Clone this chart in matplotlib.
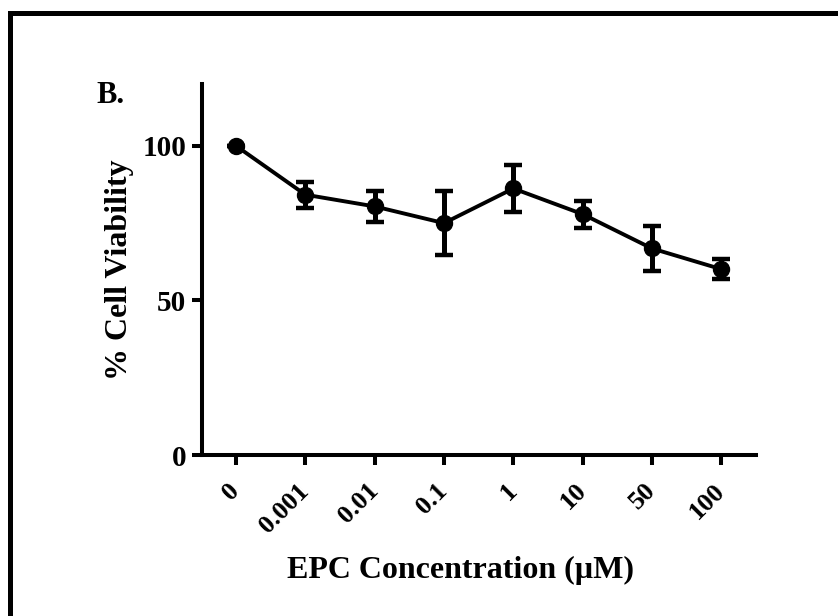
import matplotlib
matplotlib.use("Agg")
import matplotlib.pyplot as plt
from matplotlib.lines import Line2D

# Values (mean +/- error)
concentrations = ['0', '0.001', '0.01', '0.1', '1', '10', '50', '100']
viability = [100, 84.2, 80.4, 75.0, 86.2, 77.9, 66.8, 60.1]
viability_err = [0, 4.2, 5.0, 10.3, 7.5, 4.4, 7.2, 3.2]
y_ticks = [0, 50, 100]

plt.rcParams['font.family'] = ['Liberation Serif', 'DejaVu Serif']
plt.rcParams['font.weight'] = 'bold'

fig = plt.figure(figsize=(8.38, 6.16), dpi=100)
ax = fig.add_axes([202 / 838, 161 / 616, 554 / 838, 371 / 616])

x = list(range(len(concentrations)))
ax.errorbar(x, viability, yerr=viability_err, color='black', linewidth=2.8,
            marker='o', markersize=11.5, elinewidth=3.6, capsize=6.3, capthick=3.2)

ax.set_xlim(-0.49, 7.5)
ax.set_ylim(0, 120)
ax.set_yticks(y_ticks)
ax.set_xticks(x)
ax.set_xticklabels(concentrations, rotation=45, ha='right', va='center',
                   rotation_mode='anchor', fontsize=19, fontweight='bold')
for lbl in ax.get_yticklabels():
    lbl.set_fontsize(21)
    lbl.set_fontweight('bold')

for side in ['top', 'right']:
    ax.spines[side].set_visible(False)
for side in ['left', 'bottom']:
    ax.spines[side].set_linewidth(2.9)
ax.tick_params(axis='both', width=2.9, length=7.2)
ax.tick_params(axis='x', pad=16)
ax.tick_params(axis='y', pad=4)

ax.set_ylabel('% Cell Viability', fontsize=23, fontweight='bold')
ax.yaxis.set_label_coords(-0.123, 0.5)
ax.set_xlabel('EPC Concentration (\u00b5M)', fontsize=23, fontweight='bold')
ax.xaxis.set_label_coords(0.4666, -0.272)

fig.text(96 / 838, 1 - 103 / 616, 'B.', fontsize=22, fontweight='bold',
         ha='left', va='baseline')

# frame around the panel (only left and top visible in the crop)
fig.add_artist(Line2D([9.5 / 838, 9.5 / 838], [0, 1 - 12.5 / 616],
                      transform=fig.transFigure, color='black', linewidth=3.6,
                      solid_capstyle='projecting'))
fig.add_artist(Line2D([9.5 / 838, 1], [1 - 12.5 / 616, 1 - 12.5 / 616],
                      transform=fig.transFigure, color='black', linewidth=3.6,
                      solid_capstyle='projecting'))

fig.savefig('out.png', dpi=100)
